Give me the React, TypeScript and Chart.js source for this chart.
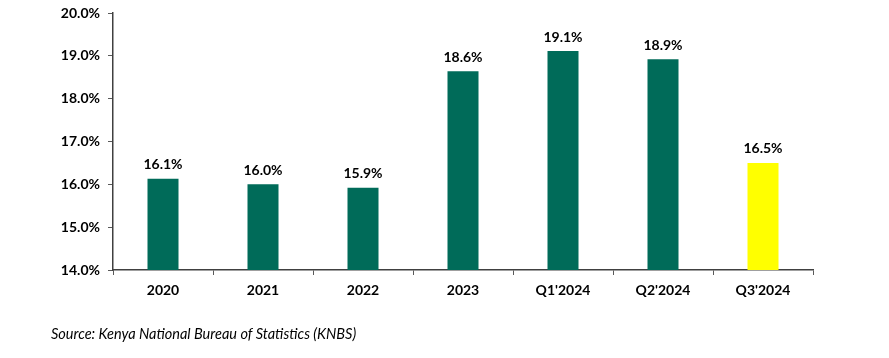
import React, { useEffect, useRef } from "react";
import { Chart, registerables } from "chart.js";

Chart.register(...registerables);

const categories = ["2020", "2021", "2022", "2023", "Q1'2024", "Q2'2024", "Q3'2024"];
const values = [16.13, 16.0, 15.92, 18.64, 19.11, 18.92, 16.5];
const barColors = ["#006B59", "#006B59", "#006B59", "#006B59", "#006B59", "#006B59", "#FFFF00"];
const yTicks = [14, 15, 16, 17, 18, 19, 20];
const sourceText = "Source: Kenya National Bureau of Statistics (KNBS)";

const FONT = "Lato, 'Open Sans', sans-serif";

const valueLabels = {
  id: "valueLabels",
  afterDatasetsDraw(chart: any) {
    const ctx = chart.ctx;
    const meta = chart.getDatasetMeta(0);
    ctx.save();
    ctx.font = `bold 14px ${FONT}`;
    ctx.fillStyle = "#000";
    ctx.textAlign = "center";
    ctx.textBaseline = "bottom";
    meta.data.forEach((bar: any, i: number) => {
      ctx.fillText(values[i].toFixed(1) + "%", bar.x, bar.y - 7);
    });
    ctx.restore();
  },
};

export default function App() {
  const ref = useRef<HTMLCanvasElement>(null);
  useEffect(() => {
    if (!ref.current) return;
    const chart = new Chart(ref.current, {
      type: "bar",
      data: {
        labels: categories,
        datasets: [
          {
            data: values,
            backgroundColor: barColors,
            borderWidth: 0,
            categoryPercentage: 1,
            barPercentage: 0.31,
          },
        ],
      },
      options: {
        animation: false,
        responsive: false,
        maintainAspectRatio: false,
        layout: { padding: { top: 13, right: 76, left: 0, bottom: 0 } },
        plugins: { legend: { display: false }, tooltip: { enabled: false } },
        scales: {
          x: {
            grid: {
              offset: true,
              drawOnChartArea: false,
              drawTicks: true,
              tickLength: 5,
              color: "#595959",
            },
            border: { color: "#404040", width: 1.5 },
            ticks: {
              color: "#000",
              font: { family: FONT, size: 14, weight: "bold" },
              padding: 7,
              maxRotation: 0,
            },
            afterFit: (s: any) => {
              s.height = 88;
              s.paddingLeft = 0;
              s.paddingRight = 0;
            },
          },
          y: {
            min: 14,
            max: 20,
            afterBuildTicks: (s: any) => {
              s.ticks = yTicks.map((v) => ({ value: v }));
            },
            grid: {
              drawOnChartArea: false,
              drawTicks: true,
              tickLength: 5,
              color: "#595959",
            },
            border: { color: "#404040", width: 1.5 },
            ticks: {
              color: "#000",
              font: { family: FONT, size: 14, weight: "bold" },
              padding: 8,
              callback: (v: any) => Number(v).toFixed(1) + "%",
            },
            afterFit: (s: any) => {
              s.width = 113;
              s.paddingTop = 0;
              s.paddingBottom = 0;
            },
          },
        },
      },
      plugins: [valueLabels],
    });
    return () => chart.destroy();
  }, []);
  return (
    <div style={{ position: "fixed", left: 0, top: 0, width: 889, height: 358, background: "#fff" }}>
      <canvas ref={ref} width={889} height={358} style={{ display: "block" }} />
      <div
        style={{
          position: "absolute",
          left: 51,
          top: 324,
          fontFamily: FONT,
          fontStyle: "italic",
          fontSize: 14.5,
          color: "#000",
          whiteSpace: "nowrap",
          lineHeight: "20px",
        }}
      >
        {sourceText}
      </div>
    </div>
  );
}
